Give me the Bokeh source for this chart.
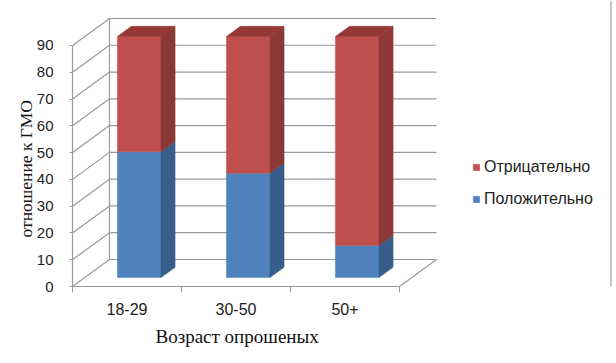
from bokeh.plotting import figure
from bokeh.models import Range1d, FixedTicker, Legend, LegendItem, Title
from bokeh.embed import file_html
from bokeh.resources import INLINE

# ---- data ----
categories = ["18-29", "30-50", "50+"]
positive = [47, 39, 12]          # Положительно
negative = [43, 51, 78]          # Отрицательно
y_ticks = [0, 10, 20, 30, 40, 50, 60, 70, 80, 90]
series_labels = ["Положительно", "Отрицательно"]
x_title = "Возраст опрошеных"
y_title = "отношение к ГМО"

# ---- layout constants (pixels per unit) ----
PX_V = 2.678     # px per value unit
PX_C = 109.0     # px per category
W, H = 614, 361
ML, MB = 72, 75
FW, FH = W - ML, H - MB

DX = 37.0 / PX_C     # depth of the 3-D box in category units
DV = 27.0 / PX_V     # depth of the 3-D box in value units
F = 0.33             # front of the bars as fraction of depth
G = 0.38             # depth of bars as fraction of depth
HALF = 0.2           # half width of bars

GRID = "#9A9A9A"
FONT = "Liberation Sans"
SERIF = "Liberation Serif"

p = figure(width=W, height=H, output_backend="svg", toolbar_location=None,
           x_range=Range1d(0, FW / PX_C), y_range=Range1d(0, FH / PX_V),
           min_border_left=ML, min_border_right=0, min_border_top=0,
           min_border_bottom=MB)
p.outline_line_color = None
p.grid.visible = False
p.background_fill_color = "white"

ncat = len(categories)
vmax = max(y_ticks)

# ---- walls ----
p.segment(x0=[DX] * len(y_ticks), y0=[v + DV for v in y_ticks],
          x1=[ncat + DX] * len(y_ticks), y1=[v + DV for v in y_ticks],
          line_color=GRID, line_width=1.2)
p.segment(x0=[0] * len(y_ticks), y0=y_ticks,
          x1=[DX] * len(y_ticks), y1=[v + DV for v in y_ticks],
          line_color=GRID, line_width=1.2)
p.segment(x0=[DX], y0=[DV], x1=[DX], y1=[vmax + DV], line_color=GRID, line_width=1.2)
p.segment(x0=[ncat], y0=[0], x1=[ncat + DX], y1=[DV], line_color=GRID, line_width=1.2)

# ---- bars ----
def faces(bottoms, tops):
    fx, fy, sx, sy, tx, ty = [], [], [], [], [], []
    for i, (b, t) in enumerate(zip(bottoms, tops)):
        x0 = i + 0.5 - HALF + F * DX
        x1 = i + 0.5 + HALF + F * DX
        b0, t0 = b + F * DV, t + F * DV
        fx.append([x0, x1, x1, x0]); fy.append([b0, b0, t0, t0])
        sx.append([x1, x1 + G * DX, x1 + G * DX, x1])
        sy.append([b0, b0 + G * DV, t0 + G * DV, t0])
        tx.append([x0, x1, x1 + G * DX, x0 + G * DX])
        ty.append([t0, t0, t0 + G * DV, t0 + G * DV])
    return fx, fy, sx, sy, tx, ty

pos_b = [0] * ncat
pos_t = positive
neg_b = positive
neg_t = [a + b for a, b in zip(positive, negative)]

bfx, bfy, bsx, bsy, _, _ = faces(pos_b, pos_t)
rfx, rfy, rsx, rsy, rtx, rty = faces(neg_b, neg_t)

blue_front = p.patches(bfx, bfy, fill_color="#4F81BD", line_color="#4F81BD", line_width=0.5)
p.patches(bsx, bsy, fill_color="#385D8A", line_color="#385D8A", line_width=0.5)
red_front = p.patches(rfx, rfy, fill_color="#C0504D", line_color="#C0504D", line_width=0.5)
p.patches(rsx, rsy, fill_color="#8C3836", line_color="#8C3836", line_width=0.5)
p.patches(rtx, rty, fill_color="#953735", line_color="#953735", line_width=0.5)

# ---- right border of chart area ----
p.segment(x0=[(FW - 3.5) / PX_C], y0=[0], x1=[(FW - 3.5) / PX_C], y1=[FH / PX_V],
          line_color="#A0A0A0", line_width=1.2)

# ---- axes ----
ya = p.yaxis[0]
ya.ticker = FixedTicker(ticks=y_ticks)
ya.bounds = (0, vmax)
ya.axis_line_color = GRID
ya.axis_line_width = 1.2
ya.major_tick_line_color = GRID
ya.major_tick_out = 3
ya.major_tick_in = 0
ya.minor_tick_line_color = None
ya.major_label_standoff = 16
ya.major_label_text_font = FONT
ya.major_label_text_font_size = "15px"
ya.major_label_text_color = "#222222"

xa = p.xaxis[0]
centers = [i + 0.5 for i in range(ncat)]
xa.ticker = FixedTicker(ticks=centers, minor_ticks=list(range(ncat + 1)))
xa.major_label_overrides = {c: lab for c, lab in zip(centers, categories)}
xa.bounds = (0, ncat)
xa.axis_line_color = GRID
xa.axis_line_width = 1.2
xa.major_tick_line_color = None
xa.major_tick_out = 0
xa.major_tick_in = 0
xa.minor_tick_line_color = GRID
xa.minor_tick_out = 6
xa.minor_tick_in = 0
xa.major_label_standoff = 10
xa.major_label_text_font = FONT
xa.major_label_text_font_size = "16px"
xa.major_label_text_color = "#222222"

# ---- axis titles (placed over the category / value span, as in the original) ----
p.add_layout(Title(text=x_title, align="left", offset=83, standoff=12,
                   text_font=SERIF, text_font_size="19px", text_font_style="normal",
                   text_color="#111111"), "below")
p.add_layout(Title(text=y_title, align="left", offset=49, standoff=-5,
                   text_font=SERIF, text_font_size="17.5px", text_font_style="normal",
                   text_color="#111111"), "left")

# ---- legend ----
legend = Legend(items=[LegendItem(label=series_labels[1], renderers=[red_front]),
                       LegendItem(label=series_labels[0], renderers=[blue_front])],
                location=(400, 78), border_line_color=None, background_fill_alpha=0,
                glyph_width=8, glyph_height=8, label_standoff=4, spacing=14,
                padding=0, margin=0, label_text_font=FONT,
                label_text_font_size="16px", label_text_color="#222222")
p.add_layout(legend)

open("out.html", "w").write(file_html(p, INLINE))
